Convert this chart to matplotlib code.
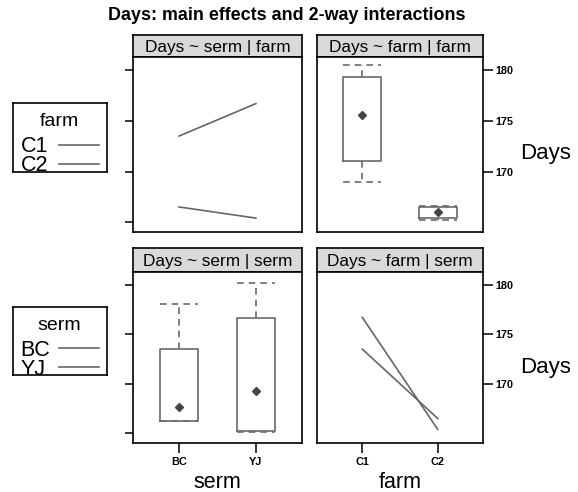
import matplotlib
matplotlib.use("Agg")
import matplotlib.pyplot as plt
from matplotlib.lines import Line2D

plt.rcParams['font.family'] = ['Liberation Sans', 'DejaVu Sans']

# ---------------- data ----------------
farm_levels = ["C1", "C2"]
serm_levels = ["BC", "YJ"]

# cell means: rows = farm, columns = serm
mean_C1 = [173.5, 176.7]   # C1 at BC, YJ
mean_C2 = [166.5, 165.4]   # C2 at BC, YJ

# box stats by farm: whislo, q1, q3, whishi, mean
farm_whislo = [169.0, 165.2]
farm_q1 = [171.0, 165.4]
farm_q3 = [179.3, 166.5]
farm_whishi = [180.5, 166.6]
farm_mean = [175.6, 166.0]

# box stats by serm
serm_whislo = [166.2, 165.1]
serm_q1 = [166.2, 165.2]
serm_q3 = [173.5, 176.6]
serm_whishi = [178.0, 180.2]
serm_mean = [167.7, 169.3]

left_ticks = [165, 170, 175, 180]
right_ticks = [170, 175, 180]

# ---------------- layout ----------------
W, H = 578, 492
fig = plt.figure(figsize=(W / 100, H / 100), dpi=100)

def rect(x0, y0, x1, y1):
    return [x0 / W, 1 - y1 / H, (x1 - x0) / W, (y1 - y0) / H]

LINE_C = "#666666"
BOX_C = "#6a6a6a"
PT_C = "#444444"
YLIM = (164.0, 181.3)
XLIM = (0.4, 2.6)

def make_panel(x0, x1, ytop, ystrip, ybot, title):
    st = fig.add_axes(rect(x0, ytop, x1, ystrip))
    st.set_facecolor("#d9d9d9")
    st.set_xticks([]); st.set_yticks([])
    for s in st.spines.values():
        s.set_linewidth(1.2)
    st.text(0.5, 0.45, title, ha="center", va="center", fontsize=12.4,
            transform=st.transAxes)
    ax = fig.add_axes(rect(x0, ystrip, x1, ybot))
    for s in ax.spines.values():
        s.set_linewidth(1.2)
    ax.set_xlim(*XLIM)
    ax.set_ylim(*YLIM)
    return ax

def box(ax, whislo, q1, q3, whishi, mean):
    stats = []
    for i in range(len(q1)):
        stats.append(dict(whislo=whislo[i], q1=q1[i], med=q1[i], q3=q3[i],
                          whishi=whishi[i], mean=mean[i], fliers=[]))
    ax.bxp(stats, positions=[1, 2], widths=0.5, capwidths=0.5,
           showmeans=True, showfliers=False,
           boxprops=dict(color=BOX_C, linewidth=1.2),
           whiskerprops=dict(color=BOX_C, linewidth=1.2, linestyle=(0, (4, 3))),
           capprops=dict(color=BOX_C, linewidth=1.2, linestyle=(0, (4, 3))),
           medianprops=dict(linewidth=0),
           meanprops=dict(marker="D", markersize=4.5, markerfacecolor=PT_C,
                          markeredgecolor=PT_C))

def left_axis(ax):
    ax.yaxis.tick_left()
    ax.set_yticks(left_ticks)
    ax.set_yticklabels([])
    ax.tick_params(axis="y", direction="out", length=6, width=1.1)

def right_axis(ax):
    ax.yaxis.tick_right()
    ax.set_yticks(right_ticks)
    ax.set_yticklabels([str(t) for t in right_ticks])
    ax.tick_params(axis="y", direction="out", length=7, width=1.1,
                   labelsize=7.8, pad=2)
    for t in ax.get_yticklabels():
        t.set_fontweight("bold")

def no_x(ax):
    ax.set_xticks([])

def bottom_x(ax, labels, xlabel):
    ax.set_xticks([1, 2])
    ax.set_xticklabels(labels, fontsize=7.8, fontweight="bold")
    ax.tick_params(axis="x", direction="out", length=7, width=1.1, pad=3)
    ax.set_xlabel(xlabel, fontsize=15.5, labelpad=3.5)

# Top-left: Days ~ serm | farm (interaction lines, one per farm)
ax1 = make_panel(133, 302, 35, 57, 232.3, "Days ~ serm | farm")
ax1.plot([1, 2], mean_C1, color=LINE_C, linewidth=1.2)
ax1.plot([1, 2], mean_C2, color=LINE_C, linewidth=1.2)
left_axis(ax1); no_x(ax1)

# Top-right: Days ~ farm | farm (boxplots by farm)
ax2 = make_panel(317, 483, 35, 57, 232.3, "Days ~ farm | farm")
box(ax2, farm_whislo, farm_q1, farm_q3, farm_whishi, farm_mean)
right_axis(ax2); no_x(ax2)
ax2.set_xlim(*XLIM)

# Bottom-left: Days ~ serm | serm (boxplots by serm)
ax3 = make_panel(133, 302, 248.3, 271.7, 443.3, "Days ~ serm | serm")
box(ax3, serm_whislo, serm_q1, serm_q3, serm_whishi, serm_mean)
left_axis(ax3)
ax3.set_xlim(*XLIM)
bottom_x(ax3, serm_levels, "serm")

# Bottom-right: Days ~ farm | serm (interaction lines, one per serm)
ax4 = make_panel(317, 483, 248.3, 271.7, 443.3, "Days ~ farm | serm")
ax4.plot([1, 2], [mean_C1[0], mean_C2[0]], color=LINE_C, linewidth=1.2)
ax4.plot([1, 2], [mean_C1[1], mean_C2[1]], color=LINE_C, linewidth=1.2)
right_axis(ax4)
bottom_x(ax4, farm_levels, "farm")

# right-side "Days" labels
fig.text(546 / W, 1 - 154 / H, "Days", ha="center", va="center", fontsize=16)
fig.text(546 / W, 1 - 367 / H, "Days", ha="center", va="center", fontsize=16)

# title
fig.text(287 / W, 1 - 15.5 / H, "Days: main effects and 2-way interactions",
         ha="center", va="center", fontsize=12.9, fontweight="bold")

# legends (drawn as boxes on the left)
def legend_box(y0, y1, title, labels):
    lg = fig.add_axes(rect(12.7, y0, 107.3, y1))
    lg.set_xlim(0, 1); lg.set_ylim(0, 1)
    lg.set_xticks([]); lg.set_yticks([])
    for s in lg.spines.values():
        s.set_linewidth(1.2)
    lg.set_facecolor("white")
    hgt = y1 - y0
    lg.text(0.49, 1 - 18.5 / hgt, title, ha="center", va="center", fontsize=14)
    for i, lab in enumerate(labels):
        yl = 1 - (42 + 19 * i) / hgt
        lg.text(0.085, yl - 1.5 / hgt, lab, ha="left", va="center", fontsize=15.5,
                clip_on=False)
        lg.add_line(Line2D([0.49, 0.915], [yl + 0.5 / hgt, yl + 0.5 / hgt],
                           color=LINE_C, linewidth=1.2))

legend_box(103.3, 171.7, "farm", farm_levels)
legend_box(306.7, 375, "serm", serm_levels)

fig.savefig("out.png", dpi=100)
